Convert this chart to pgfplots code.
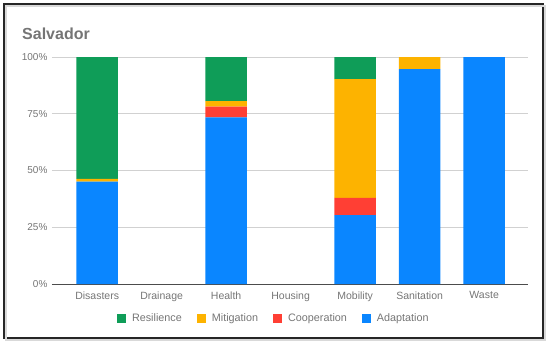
\documentclass[border=0pt]{standalone}
\usepackage{pgfplots}
\pgfplotsset{compat=1.18}
\usepackage{fontspec}
\setmainfont{Liberation Sans}
\definecolor{cRes}{HTML}{0F9D58}
\definecolor{cMit}{HTML}{FDB300}
\definecolor{cCoo}{HTML}{FF3F34}
\definecolor{cAda}{HTML}{0A86FF}
\definecolor{txt}{HTML}{757575}
\begin{document}
\begin{tikzpicture}
\begin{axis}[
  scale only axis, width=476pt, height=227pt,
  clip=false,
  ybar stacked, bar width=41.6pt,
  xmin=-0.7, xmax=6.68, ymin=0, ymax=100,
  xtick={0,...,6},
  xticklabels={Disasters,Drainage,Health,Housing,Mobility,Sanitation,Waste},
  ytick={0,25,50,75,100},
  yticklabels={0\%,25\%,50\%,75\%,100\%},
  ymajorgrids, grid style={draw=black!18, line width=0.8pt},
  axis x line*=bottom, axis y line*=left,
  y axis line style={draw=none},
  x axis line style={draw=black!70, line width=1pt, -},
  xtick style={draw=none}, ytick style={draw=none},
  tick label style={text=txt},
  xticklabel style={font=\fontsize{10.5}{12}\selectfont, yshift=-4pt},
  yticklabel style={font=\fontsize{10}{12}\selectfont, xshift=-1pt},
  every axis plot/.append style={draw=none},
  legend columns=4,
  reverse legend,
  legend style={at={(0.466,-0.15)}, anchor=center, draw=none, fill=none,
    font=\fontsize{10.8}{12}\selectfont, text=txt,
    /tikz/every odd column/.append style={column sep=4pt},
    /tikz/every even column/.append style={column sep=13pt}},
  legend image code/.code={\fill[#1] (0pt,-4.5pt) rectangle (9pt,4.5pt);},
]
\path (rel axis cs:-0.1092,-0.2731) rectangle (rel axis cs:1.0462,1.2511);
\draw[black!15, line width=2pt] (rel axis cs:-0.097,-0.2466) rectangle (rel axis cs:1.0357,1.2247);
\draw[black!85, line width=1.6pt] (rel axis cs:-0.1008,-0.2379) rectangle (rel axis cs:1.0315,1.2335);
\node[anchor=base west, inner sep=0pt, text=txt, font=\bfseries\fontsize{16}{19}\selectfont] at (rel axis cs:-0.0630,1.0749) {Salvador};
\addplot[fill=cAda] coordinates {(0,45.1) (1,0) (2,73.4) (3,0) (4,30.4) (5,94.7) (6,100)};
\addplot[fill=cCoo] coordinates {(0,0) (1,0) (2,4.7) (3,0) (4,7.5) (5,0) (6,0)};
\addplot[fill=cMit] coordinates {(0,1.2) (1,0) (2,2.5) (3,0) (4,52.4) (5,5.3) (6,0)};
\addplot[fill=cRes] coordinates {(0,53.7) (1,0) (2,19.4) (3,0) (4,9.7) (5,0) (6,0)};
\legend{Adaptation,Cooperation,Mitigation,Resilience}
\end{axis}
\end{tikzpicture}
\end{document}
